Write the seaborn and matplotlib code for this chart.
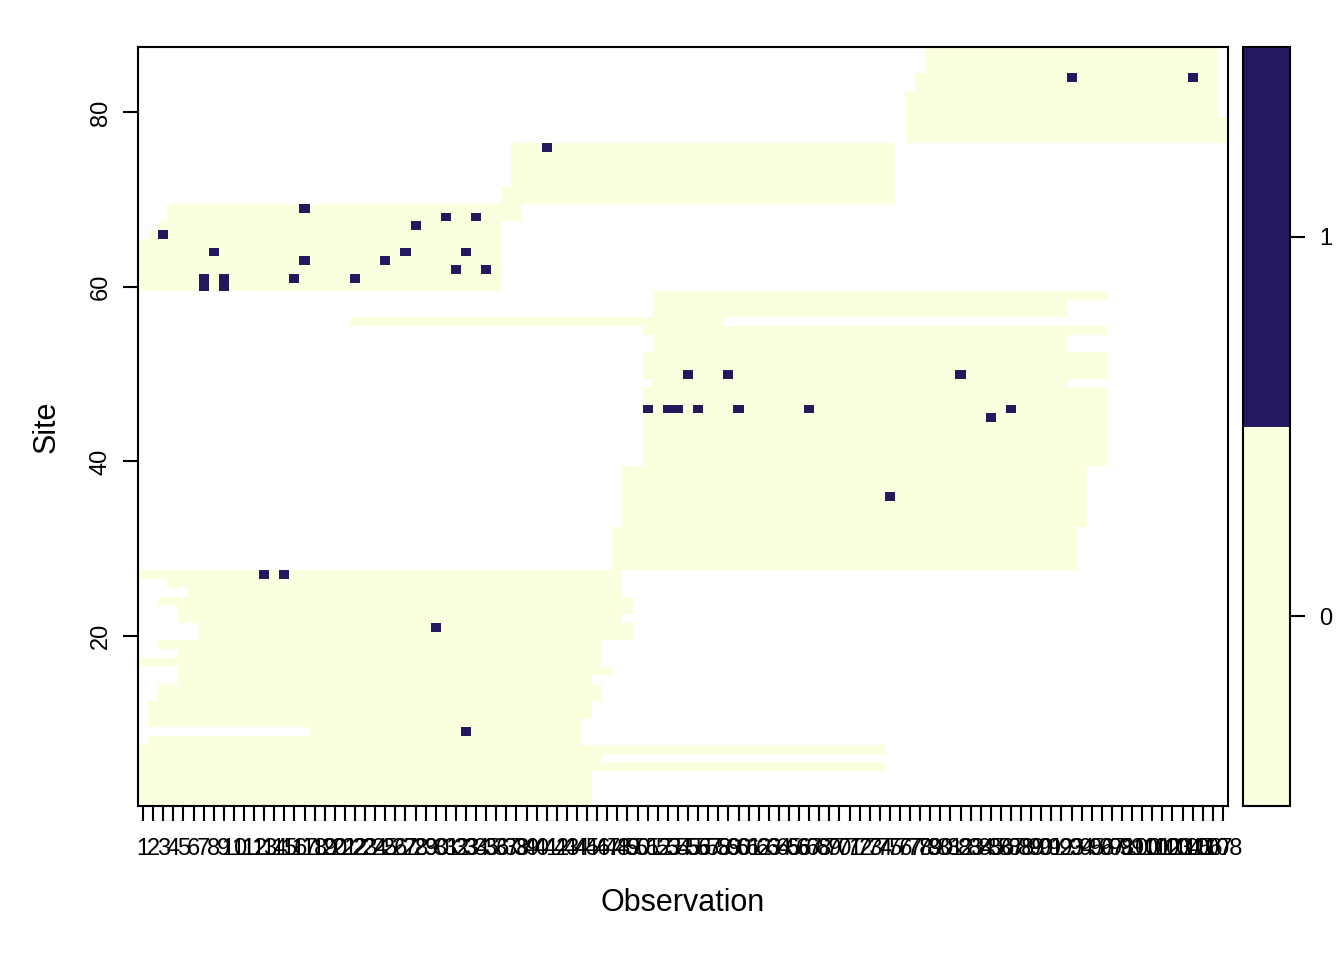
import numpy as np
import pandas as pd
import matplotlib
matplotlib.use("Agg")
import matplotlib.pyplot as plt
from matplotlib.colors import ListedColormap
import seaborn as sns

sns.set_style("white")
plt.rcParams['font.family'] = ['Liberation Sans', 'DejaVu Sans']
plt.rcParams['text.color'] = 'black'
plt.rcParams['axes.labelcolor'] = 'black'
plt.rcParams['xtick.color'] = 'black'
plt.rcParams['ytick.color'] = 'black'

# detection history: 87 sites x 108 observations
n_obs = 108
sites = np.arange(1, 88)
observations = np.arange(1, n_obs + 1)

# first and last sampled observation for each site (site 1 .. 87), outside = NA
first_obs = [1, 1, 1, 1, 1, 1, 1, 2, 18, 2,
             2, 2, 3, 3, 5, 5, 1, 5, 3, 7,
             7, 5, 5, 3, 6, 4, 1, 48, 48, 48,
             48, 48, 49, 49, 49, 49, 49, 49, 49, 51,
             51, 51, 51, 51, 51, 51, 51, 51, 52, 51,
             51, 51, 52, 52, 51, 22, 52, 52, 52, 1,
             1, 1, 1, 1, 1, 2, 3, 4, 4, 37,
             37, 38, 38, 38, 38, 38, 77, 77, 77, 77,
             77, 77, 78, 78, 79, 79, 79]
last_obs = [45, 45, 45, 45, 74, 46, 74, 44, 44, 44,
            45, 45, 46, 46, 45, 47, 46, 46, 46, 49,
            49, 48, 49, 49, 48, 48, 48, 93, 93, 93,
            93, 93, 94, 94, 94, 94, 94, 94, 94, 96,
            96, 96, 96, 96, 96, 96, 96, 96, 92, 96,
            96, 96, 92, 92, 96, 58, 92, 92, 96, 36,
            36, 36, 36, 36, 36, 36, 36, 38, 38, 75,
            75, 75, 75, 75, 75, 75, 108, 108, 108, 107,
            107, 107, 107, 107, 107, 107, 107]

# detections (value 1)
det_site = [69, 68, 68, 67, 66, 64, 64, 64, 63, 63, 62, 62, 61, 60, 61, 60, 61, 61,
            76, 84, 84, 27, 27, 21, 9,
            50, 50, 50, 46, 46, 46, 46, 46, 46, 46, 45, 36]
det_obs = [17, 31, 34, 28, 3, 8, 27, 33, 17, 25, 32, 35, 7, 7, 9, 9, 16, 22,
           41, 93, 105, 13, 15, 30, 33,
           55, 59, 82, 51, 53, 54, 56, 60, 67, 87, 85, 75]

y_ticks = [20, 40, 60, 80]
legend_ticks = [0, 1]

grid = np.full((len(sites), n_obs), np.nan)
for i in range(len(sites)):
    grid[i, first_obs[i] - 1:last_obs[i]] = 0
for s, o in zip(det_site, det_obs):
    grid[s - 1, o - 1] = 1
df = pd.DataFrame(grid, index=sites, columns=observations)

fig = plt.figure(figsize=(13.44, 9.6), dpi=100)
ax = fig.add_axes([138 / 1344, 154 / 960, 1090 / 1344, 759 / 960])
cax = fig.add_axes([1243 / 1344, 154 / 960, 47 / 1344, 759 / 960])

cmap = ListedColormap(['#FCFFDD', '#26185F'])
sns.heatmap(df, ax=ax, cmap=cmap, vmin=-0.5, vmax=1.5, cbar_ax=cax,
            xticklabels=True, yticklabels=False, cbar_kws={'ticks': legend_ticks})
ax.set_ylim(0, len(sites))

# frame
for sp in ax.spines.values():
    sp.set_visible(True)
    sp.set_color('black')
    sp.set_linewidth(1.5)

ax.set_xticks(observations - 0.5, [str(o) for o in observations], rotation=0)
ax.set_yticks(np.array(y_ticks) - 0.5, [str(t) for t in y_ticks], rotation=90, va='center')
ax.tick_params(axis='x', bottom=True, length=11, width=1.5, labelsize=17, pad=12,
               color='black', labelcolor='black')
ax.tick_params(axis='y', left=True, length=11, width=1.5, labelsize=17, pad=8,
               color='black', labelcolor='black')
ax.set_xlabel('Observation', fontsize=22, labelpad=20, color='black')
ax.set_ylabel('Site', fontsize=22, labelpad=20, color='black')

cb = ax.collections[0].colorbar
cb.outline.set_visible(True)
cb.outline.set_linewidth(1.5)
cb.outline.set_edgecolor('black')
cax.tick_params(axis='y', right=True, length=11, width=1.5, labelsize=17, pad=10,
                color='black', labelcolor='black')
cax.set_yticklabels([str(t) for t in legend_ticks])

fig.savefig('out.png', dpi=100)
